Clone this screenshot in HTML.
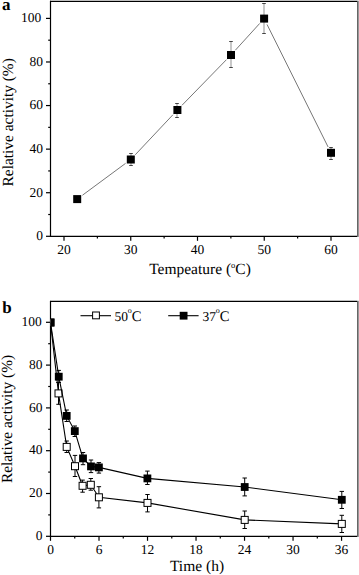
<!DOCTYPE html>
<html><head><meta charset="utf-8"><style>
html,body{margin:0;padding:0;background:#fff;width:359px;height:575px;overflow:hidden}
svg{display:block}
text{font-family:"Liberation Serif", serif;fill:#000;text-rendering:geometricPrecision}
</style></head><body>
<svg width="359" height="575" viewBox="0 0 359 575">
<line x1="50.50" y1="1.30" x2="357.00" y2="1.30" stroke="#000" stroke-width="1.2"/>
<line x1="50.50" y1="0.70" x2="50.50" y2="236.90" stroke="#000" stroke-width="1.2"/>
<line x1="49.90" y1="236.30" x2="357.00" y2="236.30" stroke="#000" stroke-width="1.2"/>
<rect x="357" y="0.70" width="1" height="236.20" fill="#666"/>
<rect x="358" y="0.70" width="1" height="236.20" fill="#999"/>
<line x1="46.00" y1="236.30" x2="50.50" y2="236.30" stroke="#000" stroke-width="1.2"/>
<text x="42.90" y="240.10" font-size="13.5" text-anchor="end" font-weight="normal" >0</text>
<line x1="46.00" y1="192.72" x2="50.50" y2="192.72" stroke="#000" stroke-width="1.2"/>
<text x="42.90" y="196.52" font-size="13.5" text-anchor="end" font-weight="normal" >20</text>
<line x1="46.00" y1="149.14" x2="50.50" y2="149.14" stroke="#000" stroke-width="1.2"/>
<text x="42.90" y="152.94" font-size="13.5" text-anchor="end" font-weight="normal" >40</text>
<line x1="46.00" y1="105.56" x2="50.50" y2="105.56" stroke="#000" stroke-width="1.2"/>
<text x="42.90" y="109.36" font-size="13.5" text-anchor="end" font-weight="normal" >60</text>
<line x1="46.00" y1="61.98" x2="50.50" y2="61.98" stroke="#000" stroke-width="1.2"/>
<text x="42.90" y="65.78" font-size="13.5" text-anchor="end" font-weight="normal" >80</text>
<line x1="46.00" y1="18.40" x2="50.50" y2="18.40" stroke="#000" stroke-width="1.2"/>
<text x="41.30" y="22.20" font-size="13.5" text-anchor="end" font-weight="normal" >100</text>
<line x1="48.20" y1="214.51" x2="50.50" y2="214.51" stroke="#000" stroke-width="1.2"/>
<line x1="48.20" y1="170.93" x2="50.50" y2="170.93" stroke="#000" stroke-width="1.2"/>
<line x1="48.20" y1="127.35" x2="50.50" y2="127.35" stroke="#000" stroke-width="1.2"/>
<line x1="48.20" y1="83.77" x2="50.50" y2="83.77" stroke="#000" stroke-width="1.2"/>
<line x1="48.20" y1="40.19" x2="50.50" y2="40.19" stroke="#000" stroke-width="1.2"/>
<line x1="64.00" y1="236.30" x2="64.00" y2="240.80" stroke="#000" stroke-width="1.2"/>
<text x="64.00" y="254.40" font-size="13.5" text-anchor="middle" font-weight="normal" >20</text>
<line x1="130.75" y1="236.30" x2="130.75" y2="240.80" stroke="#000" stroke-width="1.2"/>
<text x="130.75" y="254.40" font-size="13.5" text-anchor="middle" font-weight="normal" >30</text>
<line x1="197.50" y1="236.30" x2="197.50" y2="240.80" stroke="#000" stroke-width="1.2"/>
<text x="197.50" y="254.40" font-size="13.5" text-anchor="middle" font-weight="normal" >40</text>
<line x1="264.25" y1="236.30" x2="264.25" y2="240.80" stroke="#000" stroke-width="1.2"/>
<text x="264.25" y="254.40" font-size="13.5" text-anchor="middle" font-weight="normal" >50</text>
<line x1="331.00" y1="236.30" x2="331.00" y2="240.80" stroke="#000" stroke-width="1.2"/>
<text x="331.00" y="254.40" font-size="13.5" text-anchor="middle" font-weight="normal" >60</text>
<line x1="97.38" y1="236.30" x2="97.38" y2="238.60" stroke="#000" stroke-width="1.2"/>
<line x1="164.12" y1="236.30" x2="164.12" y2="238.60" stroke="#000" stroke-width="1.2"/>
<line x1="230.88" y1="236.30" x2="230.88" y2="238.60" stroke="#000" stroke-width="1.2"/>
<line x1="297.62" y1="236.30" x2="297.62" y2="238.60" stroke="#000" stroke-width="1.2"/>
<line x1="82.43" y1="195.24" x2="125.57" y2="163.36" stroke="#777" stroke-width="1.0"/>
<line x1="135.26" y1="154.77" x2="172.94" y2="114.73" stroke="#777" stroke-width="1.0"/>
<line x1="181.94" y1="105.34" x2="226.46" y2="59.66" stroke="#777" stroke-width="1.0"/>
<line x1="235.37" y1="50.19" x2="259.73" y2="23.41" stroke="#777" stroke-width="1.0"/>
<line x1="267.00" y1="24.42" x2="328.10" y2="146.98" stroke="#777" stroke-width="1.0"/>
<rect x="73.20" y="195.10" width="8.00" height="8.00" fill="#000"/>
<line x1="131.00" y1="153.50" x2="131.00" y2="165.50" stroke="#c8c8c8" stroke-width="2.0"/>
<line x1="129.20" y1="153.50" x2="132.80" y2="153.50" stroke="#444" stroke-width="1.0"/>
<line x1="129.20" y1="165.50" x2="132.80" y2="165.50" stroke="#444" stroke-width="1.0"/>
<rect x="126.80" y="155.50" width="8.00" height="8.00" fill="#000"/>
<line x1="177.00" y1="103.50" x2="177.00" y2="117.50" stroke="#c8c8c8" stroke-width="2.0"/>
<line x1="175.20" y1="103.50" x2="178.80" y2="103.50" stroke="#444" stroke-width="1.0"/>
<line x1="175.20" y1="117.50" x2="178.80" y2="117.50" stroke="#444" stroke-width="1.0"/>
<rect x="173.40" y="106.00" width="8.00" height="8.00" fill="#000"/>
<line x1="231.00" y1="41.50" x2="231.00" y2="67.50" stroke="#c8c8c8" stroke-width="2.0"/>
<line x1="229.20" y1="41.50" x2="232.80" y2="41.50" stroke="#444" stroke-width="1.0"/>
<line x1="229.20" y1="67.50" x2="232.80" y2="67.50" stroke="#444" stroke-width="1.0"/>
<rect x="227.00" y="51.00" width="8.00" height="8.00" fill="#000"/>
<line x1="264.00" y1="3.50" x2="264.00" y2="33.50" stroke="#c8c8c8" stroke-width="2.0"/>
<line x1="262.20" y1="3.50" x2="265.80" y2="3.50" stroke="#444" stroke-width="1.0"/>
<line x1="262.20" y1="33.50" x2="265.80" y2="33.50" stroke="#444" stroke-width="1.0"/>
<rect x="260.10" y="14.60" width="8.00" height="8.00" fill="#000"/>
<line x1="331.00" y1="147.50" x2="331.00" y2="159.50" stroke="#c8c8c8" stroke-width="2.0"/>
<line x1="329.20" y1="147.50" x2="332.80" y2="147.50" stroke="#444" stroke-width="1.0"/>
<line x1="329.20" y1="159.50" x2="332.80" y2="159.50" stroke="#444" stroke-width="1.0"/>
<rect x="327.00" y="148.80" width="8.00" height="8.00" fill="#000"/>
<text x="2.00" y="10.30" font-size="17" text-anchor="start" font-weight="bold" >a</text>
<text x="13.4" y="122.3" font-size="15.4" text-anchor="middle" transform="rotate(-90 13.4 122.3)">Relative activity (%)</text>
<text x="200.00" y="274.00" font-size="15.5" text-anchor="middle" font-weight="normal" >Tempeature (<tspan font-size="8.5" dy="-6.3">o</tspan><tspan dy="6.3">C)</tspan></text>
<line x1="50.50" y1="301.40" x2="357.00" y2="301.40" stroke="#000" stroke-width="1.2"/>
<line x1="50.50" y1="300.80" x2="50.50" y2="536.90" stroke="#000" stroke-width="1.2"/>
<line x1="49.90" y1="536.30" x2="357.00" y2="536.30" stroke="#000" stroke-width="1.2"/>
<rect x="357" y="300.80" width="1" height="236.10" fill="#666"/>
<rect x="358" y="300.80" width="1" height="236.10" fill="#999"/>
<line x1="46.00" y1="536.30" x2="50.50" y2="536.30" stroke="#000" stroke-width="1.2"/>
<text x="42.60" y="540.00" font-size="13.5" text-anchor="end" font-weight="normal" >0</text>
<line x1="46.00" y1="493.50" x2="50.50" y2="493.50" stroke="#000" stroke-width="1.2"/>
<text x="42.60" y="497.20" font-size="13.5" text-anchor="end" font-weight="normal" >20</text>
<line x1="46.00" y1="450.70" x2="50.50" y2="450.70" stroke="#000" stroke-width="1.2"/>
<text x="42.60" y="454.40" font-size="13.5" text-anchor="end" font-weight="normal" >40</text>
<line x1="46.00" y1="407.90" x2="50.50" y2="407.90" stroke="#000" stroke-width="1.2"/>
<text x="42.60" y="411.60" font-size="13.5" text-anchor="end" font-weight="normal" >60</text>
<line x1="46.00" y1="365.10" x2="50.50" y2="365.10" stroke="#000" stroke-width="1.2"/>
<text x="42.60" y="368.80" font-size="13.5" text-anchor="end" font-weight="normal" >80</text>
<line x1="46.00" y1="322.30" x2="50.50" y2="322.30" stroke="#000" stroke-width="1.2"/>
<text x="41.80" y="326.00" font-size="13.5" text-anchor="end" font-weight="normal" >100</text>
<line x1="48.20" y1="514.90" x2="50.50" y2="514.90" stroke="#000" stroke-width="1.2"/>
<line x1="48.20" y1="472.10" x2="50.50" y2="472.10" stroke="#000" stroke-width="1.2"/>
<line x1="48.20" y1="429.30" x2="50.50" y2="429.30" stroke="#000" stroke-width="1.2"/>
<line x1="48.20" y1="386.50" x2="50.50" y2="386.50" stroke="#000" stroke-width="1.2"/>
<line x1="48.20" y1="343.70" x2="50.50" y2="343.70" stroke="#000" stroke-width="1.2"/>
<line x1="50.50" y1="536.30" x2="50.50" y2="540.80" stroke="#000" stroke-width="1.2"/>
<text x="50.50" y="553.90" font-size="13.5" text-anchor="middle" font-weight="normal" >0</text>
<line x1="99.01" y1="536.30" x2="99.01" y2="540.80" stroke="#000" stroke-width="1.2"/>
<text x="99.01" y="553.90" font-size="13.5" text-anchor="middle" font-weight="normal" >6</text>
<line x1="147.52" y1="536.30" x2="147.52" y2="540.80" stroke="#000" stroke-width="1.2"/>
<text x="147.52" y="553.90" font-size="13.5" text-anchor="middle" font-weight="normal" >12</text>
<line x1="196.03" y1="536.30" x2="196.03" y2="540.80" stroke="#000" stroke-width="1.2"/>
<text x="196.03" y="553.90" font-size="13.5" text-anchor="middle" font-weight="normal" >18</text>
<line x1="244.54" y1="536.30" x2="244.54" y2="540.80" stroke="#000" stroke-width="1.2"/>
<text x="244.54" y="553.90" font-size="13.5" text-anchor="middle" font-weight="normal" >24</text>
<line x1="293.05" y1="536.30" x2="293.05" y2="540.80" stroke="#000" stroke-width="1.2"/>
<text x="293.05" y="553.90" font-size="13.5" text-anchor="middle" font-weight="normal" >30</text>
<line x1="341.56" y1="536.30" x2="341.56" y2="540.80" stroke="#000" stroke-width="1.2"/>
<text x="341.56" y="553.90" font-size="13.5" text-anchor="middle" font-weight="normal" >36</text>
<line x1="74.75" y1="536.30" x2="74.75" y2="538.60" stroke="#000" stroke-width="1.2"/>
<line x1="123.27" y1="536.30" x2="123.27" y2="538.60" stroke="#000" stroke-width="1.2"/>
<line x1="171.78" y1="536.30" x2="171.78" y2="538.60" stroke="#000" stroke-width="1.2"/>
<line x1="220.29" y1="536.30" x2="220.29" y2="538.60" stroke="#000" stroke-width="1.2"/>
<line x1="268.80" y1="536.30" x2="268.80" y2="538.60" stroke="#000" stroke-width="1.2"/>
<line x1="317.31" y1="536.30" x2="317.31" y2="538.60" stroke="#000" stroke-width="1.2"/>
<clipPath id="c2"><rect x="50.5" y="301.4" width="307.20" height="234.90"/></clipPath>
<g clip-path="url(#c2)">
<path d="M50.50,322.50 L58.50,393.40 L66.70,446.90 L75.00,466.20 L82.60,485.80 L90.80,484.80 L98.90,497.30 L147.50,502.90 L244.70,519.90 L341.80,523.90" fill="none" stroke="#000" stroke-width="1.1"/>
<line x1="58.50" y1="382.50" x2="58.50" y2="404.30" stroke="#000" stroke-width="1.0"/>
<line x1="56.30" y1="382.50" x2="60.70" y2="382.50" stroke="#000" stroke-width="1.0"/>
<line x1="56.30" y1="404.30" x2="60.70" y2="404.30" stroke="#000" stroke-width="1.0"/>
<line x1="66.70" y1="441.00" x2="66.70" y2="452.50" stroke="#000" stroke-width="1.0"/>
<line x1="64.50" y1="441.00" x2="68.90" y2="441.00" stroke="#000" stroke-width="1.0"/>
<line x1="64.50" y1="452.50" x2="68.90" y2="452.50" stroke="#000" stroke-width="1.0"/>
<line x1="75.00" y1="455.40" x2="75.00" y2="476.50" stroke="#000" stroke-width="1.0"/>
<line x1="72.80" y1="455.40" x2="77.20" y2="455.40" stroke="#000" stroke-width="1.0"/>
<line x1="72.80" y1="476.50" x2="77.20" y2="476.50" stroke="#000" stroke-width="1.0"/>
<line x1="82.60" y1="480.10" x2="82.60" y2="492.20" stroke="#000" stroke-width="1.0"/>
<line x1="80.40" y1="480.10" x2="84.80" y2="480.10" stroke="#000" stroke-width="1.0"/>
<line x1="80.40" y1="492.20" x2="84.80" y2="492.20" stroke="#000" stroke-width="1.0"/>
<line x1="90.80" y1="478.50" x2="90.80" y2="490.20" stroke="#000" stroke-width="1.0"/>
<line x1="88.60" y1="478.50" x2="93.00" y2="478.50" stroke="#000" stroke-width="1.0"/>
<line x1="88.60" y1="490.20" x2="93.00" y2="490.20" stroke="#000" stroke-width="1.0"/>
<line x1="98.90" y1="486.70" x2="98.90" y2="507.90" stroke="#000" stroke-width="1.0"/>
<line x1="96.70" y1="486.70" x2="101.10" y2="486.70" stroke="#000" stroke-width="1.0"/>
<line x1="96.70" y1="507.90" x2="101.10" y2="507.90" stroke="#000" stroke-width="1.0"/>
<line x1="147.50" y1="494.50" x2="147.50" y2="511.90" stroke="#000" stroke-width="1.0"/>
<line x1="145.30" y1="494.50" x2="149.70" y2="494.50" stroke="#000" stroke-width="1.0"/>
<line x1="145.30" y1="511.90" x2="149.70" y2="511.90" stroke="#000" stroke-width="1.0"/>
<line x1="244.70" y1="511.00" x2="244.70" y2="528.50" stroke="#000" stroke-width="1.0"/>
<line x1="242.50" y1="511.00" x2="246.90" y2="511.00" stroke="#000" stroke-width="1.0"/>
<line x1="242.50" y1="528.50" x2="246.90" y2="528.50" stroke="#000" stroke-width="1.0"/>
<line x1="341.80" y1="515.30" x2="341.80" y2="532.50" stroke="#000" stroke-width="1.0"/>
<line x1="339.60" y1="515.30" x2="344.00" y2="515.30" stroke="#000" stroke-width="1.0"/>
<line x1="339.60" y1="532.50" x2="344.00" y2="532.50" stroke="#000" stroke-width="1.0"/>
<rect x="47.00" y="319.00" width="7.00" height="7.00" fill="#fff" stroke="#000" stroke-width="1.0"/>
<rect x="55.00" y="389.90" width="7.00" height="7.00" fill="#fff" stroke="#000" stroke-width="1.0"/>
<rect x="63.20" y="443.40" width="7.00" height="7.00" fill="#fff" stroke="#000" stroke-width="1.0"/>
<rect x="71.50" y="462.70" width="7.00" height="7.00" fill="#fff" stroke="#000" stroke-width="1.0"/>
<rect x="79.10" y="482.30" width="7.00" height="7.00" fill="#fff" stroke="#000" stroke-width="1.0"/>
<rect x="87.30" y="481.30" width="7.00" height="7.00" fill="#fff" stroke="#000" stroke-width="1.0"/>
<rect x="95.40" y="493.80" width="7.00" height="7.00" fill="#fff" stroke="#000" stroke-width="1.0"/>
<rect x="144.00" y="499.40" width="7.00" height="7.00" fill="#fff" stroke="#000" stroke-width="1.0"/>
<rect x="241.20" y="516.40" width="7.00" height="7.00" fill="#fff" stroke="#000" stroke-width="1.0"/>
<rect x="338.30" y="520.40" width="7.00" height="7.00" fill="#fff" stroke="#000" stroke-width="1.0"/>
<path d="M50.50,322.50 L58.75,376.70 L66.70,415.90 L74.80,431.10 L83.00,458.40 L91.00,466.40 L98.90,467.40 L147.40,478.40 L244.70,487.00 L341.80,499.80" fill="none" stroke="#000" stroke-width="1.1"/>
<line x1="58.75" y1="370.40" x2="58.75" y2="382.50" stroke="#000" stroke-width="1.0"/>
<line x1="56.55" y1="370.40" x2="60.95" y2="370.40" stroke="#000" stroke-width="1.0"/>
<line x1="56.55" y1="382.50" x2="60.95" y2="382.50" stroke="#000" stroke-width="1.0"/>
<line x1="66.70" y1="410.00" x2="66.70" y2="421.50" stroke="#000" stroke-width="1.0"/>
<line x1="64.50" y1="410.00" x2="68.90" y2="410.00" stroke="#000" stroke-width="1.0"/>
<line x1="64.50" y1="421.50" x2="68.90" y2="421.50" stroke="#000" stroke-width="1.0"/>
<line x1="74.80" y1="426.00" x2="74.80" y2="436.50" stroke="#000" stroke-width="1.0"/>
<line x1="72.60" y1="426.00" x2="77.00" y2="426.00" stroke="#000" stroke-width="1.0"/>
<line x1="72.60" y1="436.50" x2="77.00" y2="436.50" stroke="#000" stroke-width="1.0"/>
<line x1="83.00" y1="452.50" x2="83.00" y2="464.70" stroke="#000" stroke-width="1.0"/>
<line x1="80.80" y1="452.50" x2="85.20" y2="452.50" stroke="#000" stroke-width="1.0"/>
<line x1="80.80" y1="464.70" x2="85.20" y2="464.70" stroke="#000" stroke-width="1.0"/>
<line x1="91.00" y1="460.00" x2="91.00" y2="472.60" stroke="#000" stroke-width="1.0"/>
<line x1="88.80" y1="460.00" x2="93.20" y2="460.00" stroke="#000" stroke-width="1.0"/>
<line x1="88.80" y1="472.60" x2="93.20" y2="472.60" stroke="#000" stroke-width="1.0"/>
<line x1="98.90" y1="462.60" x2="98.90" y2="473.10" stroke="#000" stroke-width="1.0"/>
<line x1="96.70" y1="462.60" x2="101.10" y2="462.60" stroke="#000" stroke-width="1.0"/>
<line x1="96.70" y1="473.10" x2="101.10" y2="473.10" stroke="#000" stroke-width="1.0"/>
<line x1="147.40" y1="471.10" x2="147.40" y2="484.50" stroke="#000" stroke-width="1.0"/>
<line x1="145.20" y1="471.10" x2="149.60" y2="471.10" stroke="#000" stroke-width="1.0"/>
<line x1="145.20" y1="484.50" x2="149.60" y2="484.50" stroke="#000" stroke-width="1.0"/>
<line x1="244.70" y1="478.00" x2="244.70" y2="495.90" stroke="#000" stroke-width="1.0"/>
<line x1="242.50" y1="478.00" x2="246.90" y2="478.00" stroke="#000" stroke-width="1.0"/>
<line x1="242.50" y1="495.90" x2="246.90" y2="495.90" stroke="#000" stroke-width="1.0"/>
<line x1="341.80" y1="491.40" x2="341.80" y2="508.50" stroke="#000" stroke-width="1.0"/>
<line x1="339.60" y1="491.40" x2="344.00" y2="491.40" stroke="#000" stroke-width="1.0"/>
<line x1="339.60" y1="508.50" x2="344.00" y2="508.50" stroke="#000" stroke-width="1.0"/>
<rect x="46.60" y="318.60" width="7.80" height="7.80" fill="#000"/>
<rect x="54.85" y="372.80" width="7.80" height="7.80" fill="#000"/>
<rect x="62.80" y="412.00" width="7.80" height="7.80" fill="#000"/>
<rect x="70.90" y="427.20" width="7.80" height="7.80" fill="#000"/>
<rect x="79.10" y="454.50" width="7.80" height="7.80" fill="#000"/>
<rect x="87.10" y="462.50" width="7.80" height="7.80" fill="#000"/>
<rect x="95.00" y="463.50" width="7.80" height="7.80" fill="#000"/>
<rect x="143.50" y="474.50" width="7.80" height="7.80" fill="#000"/>
<rect x="240.80" y="483.10" width="7.80" height="7.80" fill="#000"/>
<rect x="337.90" y="495.90" width="7.80" height="7.80" fill="#000"/>
</g>
<line x1="80.50" y1="315.70" x2="111.00" y2="315.70" stroke="#000" stroke-width="1.1"/>
<rect x="92.60" y="312.00" width="6.80" height="6.80" fill="#fff" stroke="#000" stroke-width="1.0"/>
<text x="114.40" y="320.50" font-size="13.5" text-anchor="start" font-weight="normal" >50<tspan font-size="8" dy="-7.2" dx="-0.1">o</tspan><tspan font-size="14.6" dy="7.2" dx="0">C</tspan></text>
<line x1="168.20" y1="315.70" x2="198.60" y2="315.70" stroke="#000" stroke-width="1.1"/>
<rect x="179.70" y="311.80" width="7.80" height="7.80" fill="#000"/>
<text x="202.40" y="320.50" font-size="13.5" text-anchor="start" font-weight="normal" >37<tspan font-size="8" dy="-7.2" dx="-0.1">o</tspan><tspan font-size="14.6" dy="7.2" dx="0">C</tspan></text>
<text x="2.30" y="312.60" font-size="17" text-anchor="start" font-weight="bold" >b</text>
<text x="11.9" y="419.0" font-size="15.4" text-anchor="middle" transform="rotate(-90 11.9 419.0)">Relative activity (%)</text>
<text x="197.00" y="570.60" font-size="15.5" text-anchor="middle" font-weight="normal" >Time (h)</text>
</svg>
</body></html>
